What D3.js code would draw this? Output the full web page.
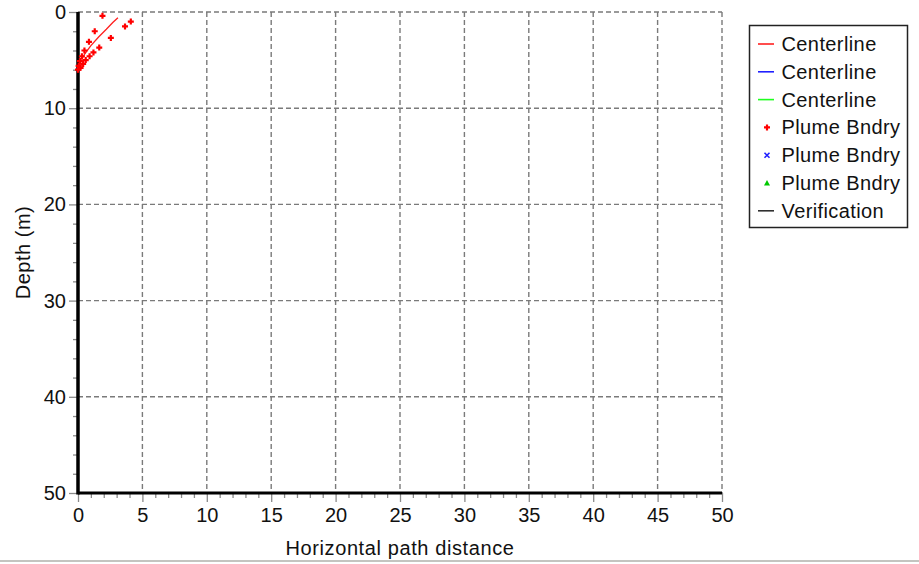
<!DOCTYPE html>
<html>
<head>
<meta charset="utf-8">
<script src="https://cdn.jsdelivr.net/npm/d3@7"></script>
<style>
  html, body { margin: 0; padding: 0; background: #ffffff; }
  svg { display: block; }
  text { font-family: "Liberation Sans", Arial, sans-serif; fill: #111; }
</style>
</head>
<body>
<svg id="chart" width="919" height="564"></svg>
<script>
// ---------- data ----------
const xTicks = [0, 5, 10, 15, 20, 25, 30, 35, 40, 45, 50];
const yTicks = [0, 10, 20, 30, 40, 50];
const xTitle = "Horizontal path distance";
const yTitle = "Depth (m)";

// Red centerline (x = horizontal distance, y = depth)
const centerlineRedX = [0.1, 0.5, 1.0, 1.6, 2.2, 2.7, 3.1];
const centerlineRedY = [5.5, 4.4, 3.5, 2.6, 1.8, 1.1, 0.6];
// Blue and green centerlines: no data visible
const centerlineBlueX = [];
const centerlineBlueY = [];
const centerlineGreenX = [];
const centerlineGreenY = [];

// Red plume boundary points
const plumeRedX = [1.9, 1.3, 0.85, 0.5, 0.3, 0.15, 0.05, 0.0,
                   4.1, 3.65, 2.55, 1.65, 1.2, 0.9, 0.6, 0.4, 0.2];
const plumeRedY = [0.4, 2.0, 3.1, 4.0, 4.6, 5.1, 5.6, 6.0,
                   1.0, 1.5, 2.7, 3.7, 4.2, 4.6, 5.0, 5.4, 5.8];
const plumeBlueX = [];
const plumeBlueY = [];
const plumeGreenX = [];
const plumeGreenY = [];
const verificationX = [];
const verificationY = [];

const legendLabels = ["Centerline", "Centerline", "Centerline",
                      "Plume Bndry", "Plume Bndry", "Plume Bndry", "Verification"];
const legendKinds = ["line", "line", "line", "plus", "cross", "triangle", "line"];
const legendColors = ["#ff2020", "#2020ff", "#20ff20", "#ff0000", "#2020ff", "#00c800", "#303030"];

// ---------- drawing ----------
const svg = d3.select("#chart");
const x = d3.scaleLinear().domain([0, 50]).range([78, 722]);
const y = d3.scaleLinear().domain([0, 50]).range([12, 493]);
const FS = "20px";

// window frame line at bottom
svg.append("line").attr("x1", 0).attr("x2", 919).attr("y1", 561).attr("y2", 561)
  .attr("stroke", "#c4c4c0").attr("stroke-width", 2);

// grid
const grid = svg.append("g");
xTicks.forEach(t => {
  if (t === 0) return;
  grid.append("line").attr("x1", x(t)).attr("x2", x(t)).attr("y1", y(0)).attr("y2", y(50))
    .attr("stroke", "#7a7a7a").attr("stroke-width", 1.4).attr("stroke-dasharray", "5,3");
});
yTicks.forEach(t => {
  if (t === 50) return;
  grid.append("line").attr("x1", x(0)).attr("x2", x(50)).attr("y1", y(t)).attr("y2", y(t))
    .attr("stroke", "#7a7a7a").attr("stroke-width", 1.4).attr("stroke-dasharray", "5,3");
});

// axes via d3
const xAxisMajor = d3.axisBottom(x).tickValues(xTicks).tickSize(9).tickPadding(6).tickFormat(d3.format("d"));
const gx = svg.append("g").attr("transform", `translate(0,${y(50)})`).call(xAxisMajor);
const xMinor = d3.range(0, 50.001, 1).filter(v => v % 5 !== 0);
svg.append("g").attr("transform", `translate(0,${y(50)})`)
  .call(d3.axisBottom(x).tickValues(xMinor).tickSize(5).tickFormat(""))
  .call(g => g.select(".domain").remove());

const yAxisMajor = d3.axisLeft(y).tickValues(yTicks).tickSize(9).tickPadding(3).tickFormat(d3.format("d"));
const gy = svg.append("g").attr("transform", `translate(${x(0)},0)`).call(yAxisMajor);
const yMinor = d3.range(0, 50.001, 2).filter(v => v % 10 !== 0);
svg.append("g").attr("transform", `translate(${x(0)},0)`)
  .call(d3.axisLeft(y).tickValues(yMinor).tickSize(5).tickFormat(""))
  .call(g => g.select(".domain").remove());

svg.selectAll(".tick line").attr("stroke", "#8a8a8a").attr("stroke-width", 1.3);
svg.selectAll(".domain").remove();
svg.selectAll(".tick text").style("font-size", FS).style("font-family", "'Liberation Sans', Arial, sans-serif").attr("fill", "#111");

// thick axis lines
svg.append("line").attr("x1", x(0)).attr("x2", x(0)).attr("y1", y(0)).attr("y2", y(50) + 1.5)
  .attr("stroke", "#000").attr("stroke-width", 3.5);
svg.append("line").attr("x1", x(0)).attr("x2", x(50)).attr("y1", y(50)).attr("y2", y(50))
  .attr("stroke", "#000").attr("stroke-width", 3);

// axis titles
svg.append("text").attr("x", (x(0) + x(50)) / 2).attr("y", 555)
  .attr("text-anchor", "middle").style("font-size", FS).style("letter-spacing", "0.6px").text(xTitle);
svg.append("text").attr("transform", `translate(30,${(y(0) + y(50)) / 2}) rotate(-90)`)
  .attr("text-anchor", "middle").style("font-size", FS).style("letter-spacing", "0.5px").text(yTitle);

// series
const line = d3.line().x(d => x(d[0])).y(d => y(d[1]));
function pts(xs, ys) { return xs.map((v, i) => [v, ys[i]]); }
const plot = svg.append("g");
[[centerlineRedX, centerlineRedY, "#ff2020"], [centerlineBlueX, centerlineBlueY, "#2020ff"],
 [centerlineGreenX, centerlineGreenY, "#20ff20"], [verificationX, verificationY, "#303030"]]
  .forEach(([xs, ys, c]) => {
    if (!xs.length) return;
    plot.append("path").attr("d", line(pts(xs, ys))).attr("fill", "none")
      .attr("stroke", c).attr("stroke-width", 1.3);
  });

function marker(g, kind, cx, cy, color) {
  if (kind === "plus") {
    g.append("path").attr("d", `M${cx - 3},${cy}h6M${cx},${cy - 3}v6`)
      .attr("stroke", color).attr("stroke-width", 2.2).attr("fill", "none");
  } else if (kind === "cross") {
    g.append("path").attr("d", `M${cx - 2.5},${cy - 2.5}l5,5M${cx - 2.5},${cy + 2.5}l5,-5`)
      .attr("stroke", color).attr("stroke-width", 1.6).attr("fill", "none");
  } else if (kind === "triangle") {
    g.append("path").attr("d", `M${cx},${cy - 3}L${cx + 3},${cy + 2.5}L${cx - 3},${cy + 2.5}Z`)
      .attr("fill", color);
  }
}
pts(plumeRedX, plumeRedY).forEach(p => marker(plot, "plus", x(p[0]), y(p[1]), "#ff0000"));
pts(plumeBlueX, plumeBlueY).forEach(p => marker(plot, "cross", x(p[0]), y(p[1]), "#2020ff"));
pts(plumeGreenX, plumeGreenY).forEach(p => marker(plot, "triangle", x(p[0]), y(p[1]), "#00c800"));

// legend
const lg = svg.append("g");
lg.append("rect").attr("x", 749.5).attr("y", 25.5).attr("width", 158).attr("height", 202)
  .attr("fill", "#fff").attr("stroke", "#222").attr("stroke-width", 1.5);
legendLabels.forEach((lab, i) => {
  const cy = 44 + i * 27.8;
  const k = legendKinds[i];
  if (k === "line") {
    lg.append("line").attr("x1", 758).attr("x2", 774).attr("y1", cy).attr("y2", cy)
      .attr("stroke", legendColors[i]).attr("stroke-width", 1.6);
  } else {
    marker(lg, k, 767, cy, legendColors[i]);
  }
  lg.append("text").attr("x", 781.5).attr("y", cy + 7).style("font-size", FS)
    .style("letter-spacing", "0.4px").text(lab);
});
</script>
</body>
</html>
